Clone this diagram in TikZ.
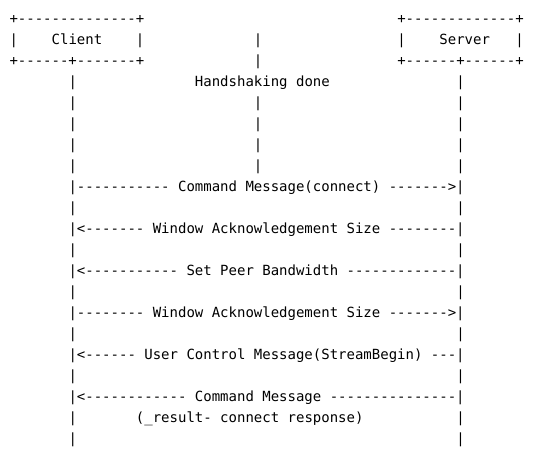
\documentclass[tikz,border=0pt]{standalone}
\usepackage{fontspec}
\setmonofont{DejaVu Sans Mono}
\tikzset{
  asc/.style={anchor=base west, inner sep=0pt, outer sep=0pt,
    font=\ttfamily\fontsize{14pt}{21pt}\selectfont, text=black}
}
% place text at character column #2, text row #3
\newcommand{\At}[4]{\node[asc] (#1) at ({9.5pt+#2*8.43pt},{-23pt-(#3-1)*21pt}) {#4};}
\begin{document}
\begin{tikzpicture}
\fill[white] (0,0) rectangle (540pt,-458pt);
\useasboundingbox (0,0) rectangle (540pt,-458pt);
% row 1
\At{cbtop}{0}{1}{+--------------+}
\At{sbtop}{46}{1}{+-------------+}
% row 2
\At{cbl}{0}{2}{|}
\At{client}{5}{2}{Client}
\At{cbr}{15}{2}{|}
\At{hs2}{29}{2}{|}
\At{sbl}{46}{2}{|}
\At{server}{51}{2}{Server}
\At{sbr}{60}{2}{|}
% row 3
\At{cbbot}{0}{3}{+------+-------+}
\At{hs3}{29}{3}{|}
\At{sbbot}{46}{3}{+------+------+}
% row 4
\At{cl4}{7}{4}{|}
\At{hsdone}{22}{4}{Handshaking done}
\At{sl4}{53}{4}{|}
% rows 5-8
\foreach \r in {5,6,7,8}{
  \At{cl\r}{7}{\r}{|}
  \At{hs\r}{29}{\r}{|}
  \At{sl\r}{53}{\r}{|}
}
% messages
\At{m1}{7}{9}{|----------- Command Message(connect) ------->|}
\At{m2}{7}{11}{|<------- Window Acknowledgement Size --------|}
\At{m3}{7}{13}{|<----------- Set Peer Bandwidth -------------|}
\At{m4}{7}{15}{|-------- Window Acknowledgement Size ------->|}
\At{m5}{7}{17}{|<------ User Control Message(StreamBegin) ---|}
\At{m6}{7}{19}{|<------------ Command Message ---------------|}
% lifeline rows
\foreach \r in {10,12,14,16,18,20,21}{
  \At{cl\r}{7}{\r}{|}
  \At{sl\r}{53}{\r}{|}
}
\At{result}{15}{20}{(\_result- connect response)}
\end{tikzpicture}
\end{document}
